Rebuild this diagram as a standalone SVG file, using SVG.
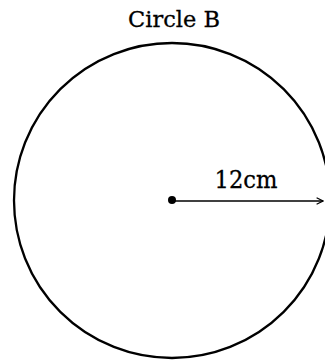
<svg xmlns="http://www.w3.org/2000/svg" width="325" height="362" viewBox="0 0 325 362">
<style>
.lbl{fill:#000;stroke:#000;stroke-width:0.3;font-family:"DejaVu Serif",serif}
.ln{stroke:#000;fill:none}
</style>
<defs>
<marker id="arr" viewBox="0 0 10 10" refX="9" refY="5" markerWidth="8" markerHeight="8" markerUnits="userSpaceOnUse" orient="auto">
<path d="M1,1 L9,5 L1,9" fill="none" stroke="#000" stroke-width="1.5"/>
</marker>
</defs>
<rect width="325" height="362" fill="#fff"/>
<g id="circleB">
<ellipse class="ln" cx="172" cy="200.5" rx="158" ry="157.5" stroke-width="2.3"/>
<text class="lbl" x="174" y="27" font-size="23" text-anchor="middle" textLength="92" lengthAdjust="spacingAndGlyphs">Circle B</text>
</g>
<g id="connectors">
<circle cx="172" cy="200" r="4" fill="#000"/>
<line class="ln" x1="172" y1="201" x2="323" y2="201" stroke-width="1.5" marker-end="url(#arr)"/>
<text class="lbl" x="246" y="188" font-size="24" text-anchor="middle" textLength="63" lengthAdjust="spacingAndGlyphs">12cm</text>
</g>
</svg>
